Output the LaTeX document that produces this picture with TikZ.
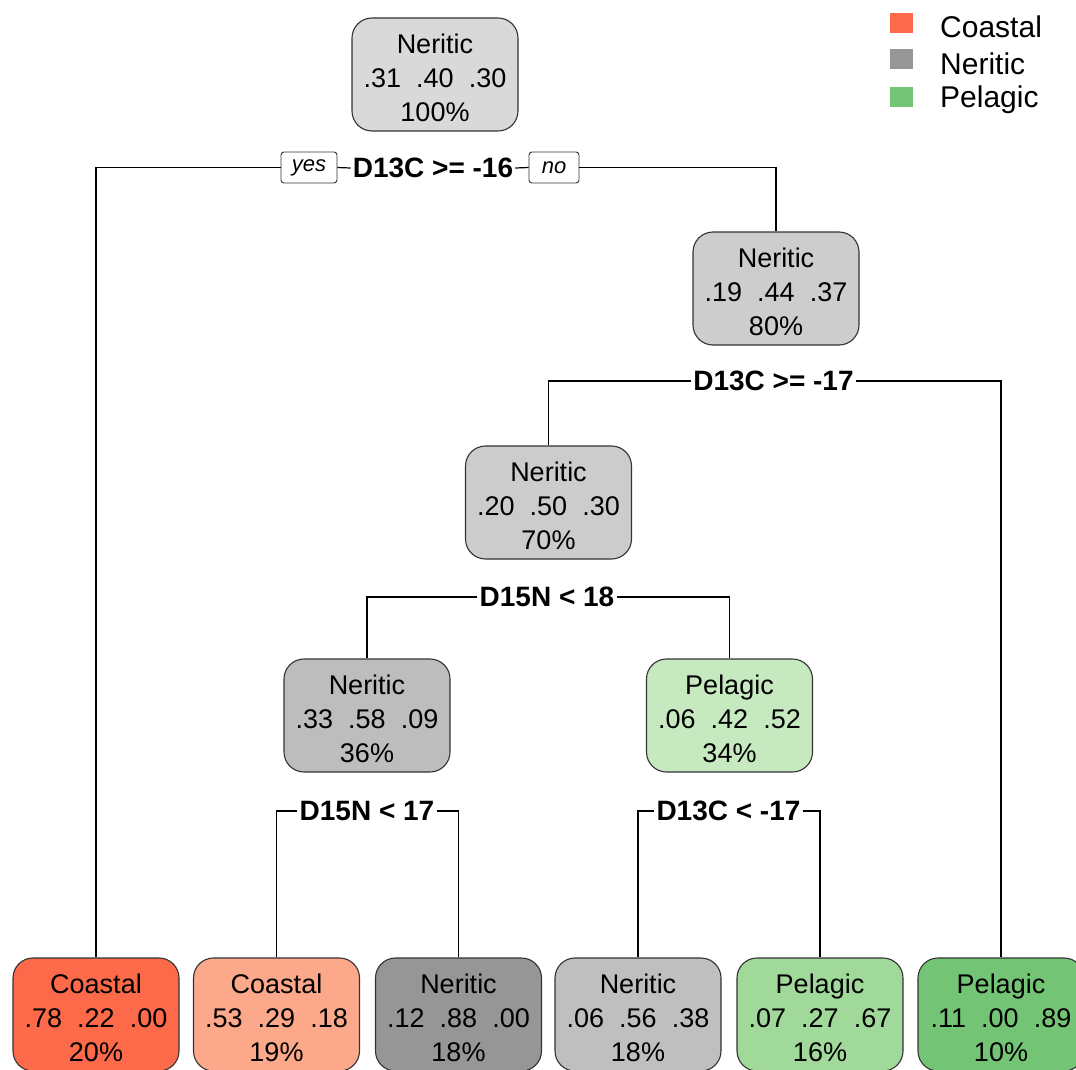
\documentclass[tikz,border=0pt]{standalone}
\usepackage{fontspec}
\setmainfont{Liberation Sans}
\definecolor{cA}{HTML}{FC6A4A}
\definecolor{cB}{HTML}{FCA88A}
\definecolor{gRoot}{HTML}{D9D9D9}
\definecolor{gN2}{HTML}{CDCDCD}
\definecolor{gN3}{HTML}{CCCCCC}
\definecolor{gN4}{HTML}{BDBDBD}
\definecolor{gL3}{HTML}{969696}
\definecolor{gL4}{HTML}{BFBFBF}
\definecolor{pN5}{HTML}{C7E9C0}
\definecolor{pL5}{HTML}{A1D99B}
\definecolor{pL6}{HTML}{74C476}
\definecolor{legC}{HTML}{FB6A4A}
\newcommand{\topstrut}{\rule{0pt}{25.5pt}}
\begin{document}
\begin{tikzpicture}[x=1pt,y=-1pt,
  tbox/.style={draw=black!80, line width=1.1pt, rounded corners=20pt,
    minimum width=166pt, minimum height=113pt, inner sep=0pt, align=center,
    font=\fontsize{27}{34}\selectfont},
  splitlab/.style={fill=white, inner sep=2pt, font=\bfseries\fontsize{28}{30}\selectfont},
  yn/.style={draw=black!80, fill=white, line width=0.9pt, rounded corners=3pt,
    minimum height=31pt, inner sep=0pt, font=\itshape\fontsize{22}{24}\selectfont},
  conn/.style={draw=black, line width=1.2pt},
  legsq/.style={minimum width=23pt, minimum height=20pt, inner sep=0pt},
  legtx/.style={anchor=west, inner sep=0pt, font=\fontsize{30}{32}\selectfont}]
\useasboundingbox (0,0) rectangle (1076,1070);
\clip (0,0) rectangle (1076,1070);
\fill[white] (0,0) rectangle (1076,1070);

% split labels
\node[splitlab] (s1) at (433,168) {D13C >= -16};
\node[yn, minimum width=56pt] (yes) at (309,167.5) {yes};
\node[yn, minimum width=50pt] (no) at (554,167.5) {no};
\node[splitlab] (s2) at (773.5,381) {D13C >= -17};
\node[splitlab] (s3) at (547,597) {D15N < 18};
\node[splitlab] (s4) at (367,811) {D15N < 17};
\node[splitlab] (s5) at (728.5,811) {D13C < -17};

% nodes
\node[tbox, fill=gRoot] (n1) at (435,74.5) {\topstrut Neritic\\.31\ \ .40\ \ .30\\100\%};
\node[tbox, fill=gN2] (n2) at (776,288.5) {\topstrut Neritic\\.19\ \ .44\ \ .37\\80\%};
\node[tbox, fill=gN3] (n3) at (548.5,502.5) {\topstrut Neritic\\.20\ \ .50\ \ .30\\70\%};
\node[tbox, fill=gN4] (n4) at (367,715.5) {\topstrut Neritic\\.33\ \ .58\ \ .09\\36\%};
\node[tbox, fill=pN5] (n5) at (729.5,715.5) {\topstrut Pelagic\\.06\ \ .42\ \ .52\\34\%};

\node[tbox, fill=cA] (l1) at (96,1014.5) {\topstrut Coastal\\.78\ \ .22\ \ .00\\20\%};
\node[tbox, fill=cB] (l2) at (276.5,1014.5) {\topstrut Coastal\\.53\ \ .29\ \ .18\\19\%};
\node[tbox, fill=gL3] (l3) at (458.5,1014.5) {\topstrut Neritic\\.12\ \ .88\ \ .00\\18\%};
\node[tbox, fill=gL4] (l4) at (638,1014.5) {\topstrut Neritic\\.06\ \ .56\ \ .38\\18\%};
\node[tbox, fill=pL5] (l5) at (820,1014.5) {\topstrut Pelagic\\.07\ \ .27\ \ .67\\16\%};
\node[tbox, fill=pL6] (l6) at (1001,1014.5) {\topstrut Pelagic\\.11\ \ .00\ \ .89\\10\%};

% connectors
\path[conn] (l1.north) |- (yes.west);
\path[conn] (yes.east) -- (s1.west);
\path[conn] (s1.east) -- (no.west);
\path[conn] (no.east) -| (n2.north);

\path[conn] (n3.north) |- (s2.west);
\path[conn] (s2.east) -| (l6.north);

\path[conn] (n4.north) |- (s3.west);
\path[conn] (s3.east) -| (n5.north);

\path[conn] (l2.north) |- (s4.west);
\path[conn] (s4.east) -| (l3.north);

\path[conn] (l4.north) |- (s5.west);
\path[conn] (s5.east) -| (l5.north);

% legend
\node[legsq, fill=legC] (q1) at (901.5,23) {};
\node[legsq, fill=gL3] (q2) at (901.5,59) {};
\node[legsq, fill=pL6] (q3) at (901.5,97.5) {};
\node[legtx] (t1) at (940,27) {Coastal};
\node[legtx] (t2) at (940,64) {Neritic};
\node[legtx] (t3) at (940,100) {Pelagic};
\end{tikzpicture}
\end{document}
